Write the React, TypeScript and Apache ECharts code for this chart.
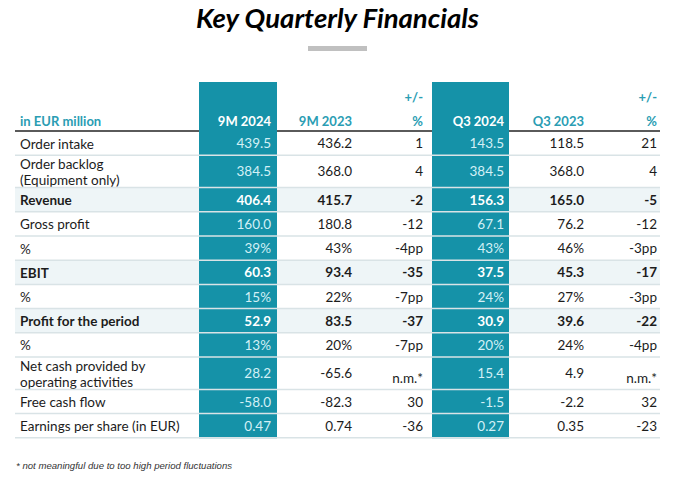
import React, { useEffect, useRef } from "react";
import * as echarts from "echarts";

// ---------- data ----------
const chartTitle = "Key Quarterly Financials";
const unitLabel = "in EUR million";
const columnHeaders = ["9M 2024", "9M 2023", "%", "Q3 2024", "Q3 2023", "%"];
const columnSuperHeaders = ["", "", "+/-", "", "", "+/-"];
const rowLabels = [
  "Order intake",
  "Order backlog\n(Equipment only)",
  "Revenue",
  "Gross profit",
  "%",
  "EBIT",
  "%",
  "Profit for the period",
  "%",
  "Net cash provided by\noperating activities",
  "Free cash flow",
  "Earnings per share (in EUR)",
];
const boldRows = [false, false, true, false, false, true, false, true, false, false, false, false];
const values9M2024 = ["439.5", "384.5", "406.4", "160.0", "39%", "60.3", "15%", "52.9", "13%", "28.2", "-58.0", "0.47"];
const values9M2023 = ["436.2", "368.0", "415.7", "180.8", "43%", "93.4", "22%", "83.5", "20%", "-65.6", "-82.3", "0.74"];
const change9M = ["1", "4", "-2", "-12", "-4pp", "-35", "-7pp", "-37", "-7pp", "n.m.*", "30", "-36"];
const valuesQ32024 = ["143.5", "384.5", "156.3", "67.1", "43%", "37.5", "24%", "30.9", "20%", "15.4", "-1.5", "0.27"];
const valuesQ32023 = ["118.5", "368.0", "165.0", "76.2", "46%", "45.3", "27%", "39.6", "24%", "4.9", "-2.2", "0.35"];
const changeQ3 = ["21", "4", "-5", "-12", "-3pp", "-17", "-3pp", "-22", "-4pp", "n.m.*", "32", "-23"];
const footnote = "* not meaningful due to too high period fluctuations";

const tableColumns = [values9M2024, values9M2023, change9M, valuesQ32024, valuesQ32023, changeQ3];
const highlightedColumns = [0, 3];

// ---------- layout ----------
const FONT = 'Lato, "Open Sans", sans-serif';
const LABEL_W = 184;
const COL_W = [78, 78, 77, 77, 78, 73];
const COL_PAD = [6, 3, 9, 5, 3, 3];
const HEADER_H = 49;
const SINGLE_H = 24.2;
const DOUBLE_H = 32.4;

const colLeft: number[] = [];
{
  let acc = LABEL_W;
  COL_W.forEach((w) => {
    colLeft.push(acc);
    acc += w;
  });
}
const TABLE_W = LABEL_W + COL_W.reduce((a, b) => a + b, 0);
const rowHeights = rowLabels.map((l) => (l.split("\n").length > 1 ? DOUBLE_H : SINGLE_H));
const rowTops: number[] = [];
{
  let acc = HEADER_H;
  rowHeights.forEach((h) => {
    rowTops.push(acc);
    acc += h;
  });
}
const TABLE_H = HEADER_H + rowHeights.reduce((a, b) => a + b, 0);

const TEAL = "#1592a8";
const TEAL_TEXT = "#2a9db3";
const SEP = "#d9e3e6";

function buildOption(): any {
  const rowItems = [-1, ...rowLabels.map((_, i) => i)].map((r) => [r]);
  return {
    animation: false,
    grid: { left: 15, top: 82, width: TABLE_W, height: TABLE_H },
    xAxis: { type: "value", min: 0, max: TABLE_W, show: false },
    yAxis: { type: "value", min: 0, max: TABLE_H, inverse: true, show: false },
    graphic: [
      {
        type: "text",
        x: 337.5,
        y: 17,
        style: {
          text: chartTitle,
          fill: "#000",
          fontFamily: FONT,
          fontSize: 27.5,
          fontWeight: "bold",
          fontStyle: "italic",
          align: "center",
          verticalAlign: "middle",
        },
      },
      {
        type: "rect",
        shape: { x: 308, y: 46, width: 59, height: 5 },
        style: { fill: "#c0c0c0" },
      },
      {
        type: "text",
        x: 16,
        y: 465,
        style: {
          text: footnote,
          fill: "#333333",
          fontFamily: '"Liberation Sans", Arial, sans-serif',
          fontSize: 9.6,
          fontStyle: "italic",
          align: "left",
          verticalAlign: "middle",
        },
      },
    ],
    series: [
      {
        type: "custom",
        coordinateSystem: "cartesian2d",
        clip: false,
        silent: true,
        data: rowItems,
        renderItem: (params: any, api: any) => {
          const r = api.value(0) as number;
          const isHeader = r < 0;
          const top = isHeader ? 0 : rowTops[r];
          const h = isHeader ? HEADER_H : rowHeights[r];
          const p0 = api.coord([0, top]);
          const p1 = api.coord([TABLE_W, top + h]);
          const x0 = p0[0], y0 = p0[1], x1 = p1[0], y1 = p1[1];
          const bold = !isHeader && boldRows[r];
          const children: any[] = [];
          const colX = (c: number) => [api.coord([colLeft[c], 0])[0], api.coord([colLeft[c] + COL_W[c], 0])[0]];

          if (bold) {
            children.push({
              type: "rect",
              shape: { x: x0, y: y0, width: x1 - x0, height: y1 - y0 },
              style: { fill: "#eef5f7" },
            });
          }
          if (isHeader) {
            const bounds = [x0];
            highlightedColumns.forEach((c) => {
              const [a, b] = colX(c);
              bounds.push(a, b);
            });
            bounds.push(x1);
            for (let i = 0; i < bounds.length; i += 2) {
              children.push({
                type: "line",
                shape: { x1: bounds[i], y1: y1, x2: bounds[i + 1], y2: y1 },
                style: { stroke: "#5a5a5a", lineWidth: 2 },
              });
            }
          }
          highlightedColumns.forEach((c) => {
            const [a, b] = colX(c);
            children.push({
              type: "rect",
              shape: { x: a, y: y0, width: b - a, height: y1 - y0 + 0.5 },
              style: { fill: TEAL },
            });
          });
          if (!isHeader && r > 0) {
            children.push({
              type: "line",
              shape: { x1: x0, y1: y0, x2: x1, y2: y0 },
              style: { stroke: SEP, lineWidth: 1.5 },
            });
          }
          if (!isHeader && r === rowLabels.length - 1) {
            children.push({
              type: "line",
              shape: { x1: x0, y1: y1, x2: x1, y2: y1 },
              style: { stroke: SEP, lineWidth: 1.5 },
            });
          }

          const cy = (y0 + y1) / 2;
          if (isHeader) {
            const hy = y1 - 10;
            const sy = y0 + 15;
            children.push({
              type: "text",
              style: {
                text: unitLabel, x: x0 + 5, y: hy, fill: TEAL_TEXT,
                fontFamily: FONT, fontSize: 13, fontWeight: "bold",
                align: "left", verticalAlign: "middle",
              },
            });
            columnHeaders.forEach((t, c) => {
              const [, b] = colX(c);
              const hi = highlightedColumns.indexOf(c) >= 0;
              children.push({
                type: "text",
                style: {
                  text: t, x: b - COL_PAD[c], y: hy, fill: hi ? "#ffffff" : TEAL_TEXT,
                  fontFamily: FONT, fontSize: 13, fontWeight: "bold",
                  align: "right", verticalAlign: "middle",
                },
              });
              if (columnSuperHeaders[c]) {
                children.push({
                  type: "text",
                  style: {
                    text: columnSuperHeaders[c], x: b - COL_PAD[c], y: sy, fill: TEAL_TEXT,
                    fontFamily: FONT, fontSize: 13, fontWeight: "bold",
                    align: "right", verticalAlign: "middle",
                  },
                });
              }
            });
          } else {
            children.push({
              type: "text",
              style: {
                text: rowLabels[r], x: x0 + 5, y: cy + 0.5, fill: "#1c1c1c",
                fontFamily: FONT, fontSize: 13.5, fontWeight: bold ? "bold" : "normal",
                lineHeight: 16.2, align: "left", verticalAlign: "middle",
              },
            });
            tableColumns.forEach((vals, c) => {
              const [, b] = colX(c);
              const hi = highlightedColumns.indexOf(c) >= 0;
              const v = vals[r];
              const fill = hi ? (bold ? "#ffffff" : "#d3f0f6") : "#1c1c1c";
              children.push({
                type: "text",
                style: {
                  text: v, x: b - COL_PAD[c], y: cy + (v.indexOf("n.m.") === 0 ? 5 : 0), fill,
                  fontFamily: FONT, fontSize: 13.5, fontWeight: bold ? "bold" : "normal",
                  align: "right", verticalAlign: "middle",
                },
              });
            });
          }
          return { type: "group", children };
        },
      },
    ],
  };
}

export default function App() {
  const ref = useRef<HTMLDivElement>(null);
  useEffect(() => {
    if (!ref.current) return;
    const chart = echarts.init(ref.current, undefined, { renderer: "svg" });
    chart.setOption(buildOption());
    return () => chart.dispose();
  }, []);
  return (
    <div
      ref={ref}
      style={{ position: "fixed", left: 0, top: 0, width: 689, height: 477, background: "#ffffff" }}
    />
  );
}
